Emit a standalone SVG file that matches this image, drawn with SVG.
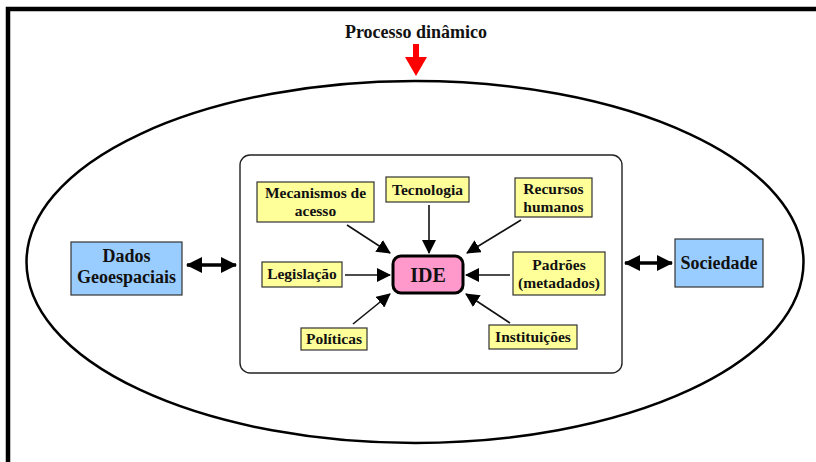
<svg xmlns="http://www.w3.org/2000/svg" width="816" height="462" viewBox="0 0 816 462">
  <style>
    text { font-family: "Liberation Serif", "Times New Roman", serif; font-weight: bold; fill: #111; text-anchor: middle; }
    .t15 { font-size: 15.5px; }
    .t18 { font-size: 18px; }
    .factor { fill: #FFFF99; stroke: #333; stroke-width: 1.2; }
    .actor { fill: #99CCFF; stroke: #333; stroke-width: 1.2; }
    .thin { stroke: #111; stroke-width: 1.6; fill: none; }
    .thick { stroke: #000; stroke-width: 3.5; fill: none; }
  </style>
  <defs>
    <marker id="head" markerUnits="userSpaceOnUse" markerWidth="14" markerHeight="14" viewBox="0 0 14 14" refX="13" refY="7" orient="auto">
      <path d="M0,0 L14,7 L0,14 Z" fill="#000"/>
    </marker>
    <marker id="bigEnd" markerUnits="userSpaceOnUse" markerWidth="16" markerHeight="16" viewBox="0 0 16 16" refX="15" refY="8" orient="auto">
      <path d="M0,0 L16,8 L0,16 Z" fill="#000"/>
    </marker>
    <marker id="bigStart" markerUnits="userSpaceOnUse" markerWidth="16" markerHeight="16" viewBox="0 0 16 16" refX="1" refY="8" orient="auto">
      <path d="M16,0 L0,8 L16,16 Z" fill="#000"/>
    </marker>
  </defs>

  <rect width="816" height="462" fill="#fff"/>

  <!-- outer frame (open on the right and bottom) -->
  <path d="M8,462 L8,9 L816,9" fill="none" stroke="#000" stroke-width="4.5"/>

  <!-- title and red process arrow -->
  <text class="t18" x="416" y="38">Processo dinâmico</text>
  <path d="M413,44 L419,44 L419,57 L427,57 L416,76 L405,57 L413,57 Z" fill="#FF0000"/>

  <!-- big ellipse -->
  <ellipse cx="415" cy="262" rx="388.5" ry="181" fill="none" stroke="#000" stroke-width="2.5"/>

  <!-- inner panel -->
  <rect x="240" y="155" width="382" height="218" rx="10" ry="10" fill="#fff" stroke="#222" stroke-width="1.4"/>

  <g id="connectors">
    <line class="thick" x1="187" y1="265" x2="236" y2="265" marker-start="url(#bigStart)" marker-end="url(#bigEnd)"/>
    <line class="thick" x1="625" y1="263" x2="672" y2="263" marker-start="url(#bigStart)" marker-end="url(#bigEnd)"/>
    <line class="thin" x1="347" y1="225" x2="390" y2="253" marker-end="url(#head)"/>
    <line class="thin" x1="429" y1="205" x2="429" y2="253" marker-end="url(#head)"/>
    <line class="thin" x1="521" y1="220" x2="467" y2="253" marker-end="url(#head)"/>
    <line class="thin" x1="345" y1="275" x2="390" y2="275" marker-end="url(#head)"/>
    <line class="thin" x1="510" y1="275" x2="466" y2="275" marker-end="url(#head)"/>
    <line class="thin" x1="353" y1="324" x2="390" y2="294" marker-end="url(#head)"/>
    <line class="thin" x1="510" y1="323" x2="466" y2="294" marker-end="url(#head)"/>
  </g>

  <g id="dados">
    <rect class="actor" x="71" y="242" width="111" height="53"/>
    <text class="t18" x="126.5" y="262">Dados</text>
    <text class="t18" x="126.5" y="283">Geoespaciais</text>
  </g>

  <g id="sociedade">
    <rect class="actor" x="675" y="239" width="88" height="48"/>
    <text class="t18" x="719" y="269">Sociedade</text>
  </g>

  <g id="ide">
    <rect x="393" y="256" width="70" height="37" rx="8" ry="8" fill="#FF99CC" stroke="#000" stroke-width="3"/>
    <text x="428" y="282" style="font-size:20px">IDE</text>
  </g>

  <g id="mecanismos">
    <rect class="factor" x="257" y="182" width="117" height="40"/>
    <text class="t15" x="315.5" y="198">Mecanismos de</text>
    <text class="t15" x="315.5" y="216">acesso</text>
  </g>

  <g id="tecnologia">
    <rect class="factor" x="386" y="177" width="83" height="25"/>
    <text class="t15" x="427.5" y="195">Tecnologia</text>
  </g>

  <g id="recursos">
    <rect class="factor" x="515" y="178" width="77" height="39"/>
    <text class="t15" x="553.5" y="194">Recursos</text>
    <text class="t15" x="553.5" y="212">humanos</text>
  </g>

  <g id="legislacao">
    <rect class="factor" x="262" y="262" width="80" height="25"/>
    <text class="t15" x="302" y="279">Legislação</text>
  </g>

  <g id="padroes">
    <rect class="factor" x="513" y="252" width="92" height="43"/>
    <text class="t15" x="559" y="270">Padrões</text>
    <text class="t15" x="559" y="288">(metadados)</text>
  </g>

  <g id="politicas">
    <rect class="factor" x="301" y="328" width="66" height="22"/>
    <text class="t15" x="334" y="344">Políticas</text>
  </g>

  <g id="instituicoes">
    <rect class="factor" x="489" y="325" width="88" height="24"/>
    <text class="t15" x="533" y="342">Instituições</text>
  </g>
</svg>
